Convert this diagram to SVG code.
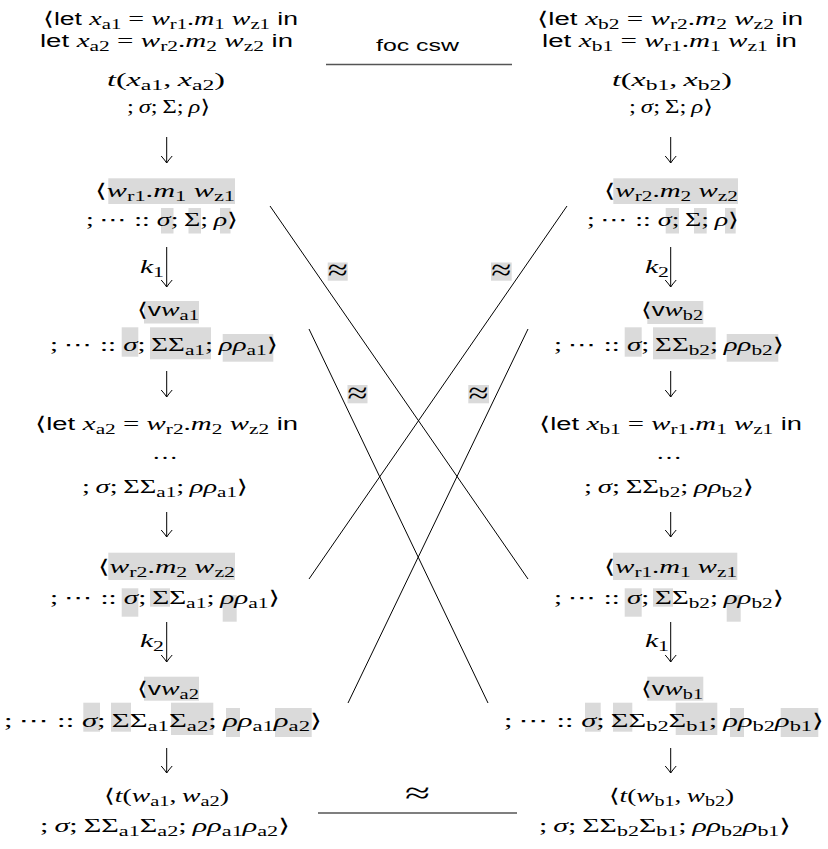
<svg xmlns="http://www.w3.org/2000/svg" width="828" height="849" viewBox="0 0 828 849">
<defs>
<style>
.t{font-family:"Liberation Serif",serif;font-size:19px;fill:#000}
.m{font-style:italic}
.s{font-family:"Liberation Sans",sans-serif;font-size:18px}
.b{font-size:14px}
.a{font-family:"DejaVu Sans",sans-serif}
.ap{font-family:"Liberation Serif",serif;font-size:30px;fill:#000}
.hl{fill:#dadada}
.ln{stroke:#000;stroke-width:1;fill:none}
.bar{stroke:#555;stroke-width:1.4;fill:none}
.arr{stroke:#000;stroke-width:1;fill:none;marker-end:url(#hd)}
.lab{font-family:"Liberation Sans",sans-serif;font-size:17px;fill:#000}
</style>
<marker id="hd" viewBox="-9 -8 10 16" markerWidth="10" markerHeight="16" refX="0" refY="0" orient="auto" markerUnits="userSpaceOnUse" overflow="visible">
<path d="M-7,-5.5 Q-2.5,-1.5 0,0 Q-2.5,1.5 -7,5.5" stroke="#000" stroke-width="1" fill="none"/>
</marker>
</defs>
<rect width="828" height="849" fill="#fff"/>

<g id="connectors">
<path class="arr" d="M166.7,137 V163"/>
<path class="arr" d="M166.7,247 V287"/>
<path class="arr" d="M166.7,371 V397"/>
<path class="arr" d="M166.7,512 V537"/>
<path class="arr" d="M166.7,622 V662"/>
<path class="arr" d="M166.7,748 V773"/>
<path class="arr" d="M670.7,137 V163"/>
<path class="arr" d="M670.7,247 V287"/>
<path class="arr" d="M670.7,371 V397"/>
<path class="arr" d="M670.7,512 V537"/>
<path class="arr" d="M670.7,622 V662"/>
<path class="arr" d="M670.7,748 V773"/>
<line class="ln" x1="270" y1="206" x2="528" y2="579"/>
<line class="ln" x1="567" y1="206" x2="309" y2="579"/>
<line class="ln" x1="309" y1="329" x2="488" y2="703"/>
<line class="ln" x1="528" y1="329" x2="348" y2="703"/>
<line class="bar" x1="326" y1="64.5" x2="512" y2="64.5"/>
<line class="bar" x1="318" y1="813" x2="517" y2="813"/>
</g>

<g id="edge-labels">
<text class="lab" x="376" y="51" textLength="83" lengthAdjust="spacingAndGlyphs">foc csw</text>
<text class="ap" x="405" y="803" textLength="25" lengthAdjust="spacingAndGlyphs">≈</text>
<rect class="hl" x="327.7" y="262.5" width="20" height="18.2"/>
<text class="ap" x="327.7" y="280" textLength="20" lengthAdjust="spacingAndGlyphs">≈</text>
<rect class="hl" x="491" y="262.5" width="20.7" height="18.2"/>
<text class="ap" x="491.3" y="280" textLength="20" lengthAdjust="spacingAndGlyphs">≈</text>
<rect class="hl" x="347.5" y="385" width="20" height="18.3"/>
<text class="ap" x="347.5" y="402.5" textLength="20" lengthAdjust="spacingAndGlyphs">≈</text>
<rect class="hl" x="468.3" y="385" width="20.7" height="18.3"/>
<text class="ap" x="468.6" y="402.5" textLength="20" lengthAdjust="spacingAndGlyphs">≈</text>
<text class="t" x="140" y="273" textLength="24" lengthAdjust="spacingAndGlyphs"><tspan class="m">k</tspan><tspan class="b" dy="4">1</tspan></text>
<text class="t" x="140" y="647" textLength="24" lengthAdjust="spacingAndGlyphs"><tspan class="m">k</tspan><tspan class="b" dy="4">2</tspan></text>
<text class="t" x="645" y="273" textLength="24" lengthAdjust="spacingAndGlyphs"><tspan class="m">k</tspan><tspan class="b" dy="4">2</tspan></text>
<text class="t" x="645" y="647" textLength="24" lengthAdjust="spacingAndGlyphs"><tspan class="m">k</tspan><tspan class="b" dy="4">1</tspan></text>
</g>

<g id="a0">
<text class="t" x="43" y="25" textLength="255" lengthAdjust="spacingAndGlyphs"><tspan class="a">&#10216;</tspan><tspan class="s">let </tspan><tspan class="m">x</tspan><tspan class="b" dy="4">a1</tspan><tspan dy="-4"> = </tspan><tspan class="m">w</tspan><tspan class="b" dy="4">r1</tspan><tspan dy="-4">.</tspan><tspan class="m">m</tspan><tspan class="b" dy="4">1</tspan><tspan class="m" dy="-4"> w</tspan><tspan class="b" dy="4">z1</tspan><tspan class="s" dy="-4"> in</tspan></text>
<text class="t" x="40" y="47" textLength="253" lengthAdjust="spacingAndGlyphs"><tspan class="s">let </tspan><tspan class="m">x</tspan><tspan class="b" dy="4">a2</tspan><tspan dy="-4"> = </tspan><tspan class="m">w</tspan><tspan class="b" dy="4">r2</tspan><tspan dy="-4">.</tspan><tspan class="m">m</tspan><tspan class="b" dy="4">2</tspan><tspan class="m" dy="-4"> w</tspan><tspan class="b" dy="4">z2</tspan><tspan class="s" dy="-4"> in</tspan></text>
<text class="t" x="107" y="86" textLength="118" lengthAdjust="spacingAndGlyphs"><tspan class="m">t</tspan>(<tspan class="m">x</tspan><tspan class="b" dy="4">a1</tspan><tspan dy="-4">,&#8201;</tspan><tspan class="m">x</tspan><tspan class="b" dy="4">a2</tspan><tspan dy="-4">)</tspan></text>
<text class="t" x="127" y="113" textLength="83" lengthAdjust="spacingAndGlyphs">;&#8201;<tspan class="m">σ</tspan>;&#8201;Σ;&#8201;<tspan class="m">ρ</tspan><tspan class="a">&#10217;</tspan></text>
</g>

<g id="a1">
<rect class="hl" x="108.3" y="178.3" width="126.7" height="25.7"/>
<rect class="hl" x="161" y="208" width="12.5" height="25.5"/>
<rect class="hl" x="188.5" y="208" width="12.5" height="25.5"/>
<rect class="hl" x="220" y="208" width="10.5" height="25.5"/>
<text class="t" x="95" y="197" textLength="140" lengthAdjust="spacingAndGlyphs"><tspan class="a">&#10216;</tspan><tspan class="m">w</tspan><tspan class="b" dy="4">r1</tspan><tspan dy="-4">.</tspan><tspan class="m">m</tspan><tspan class="b" dy="4">1</tspan><tspan class="m" dy="-4"> w</tspan><tspan class="b" dy="4">z1</tspan></text>
<text class="t" x="86" y="226" textLength="152" lengthAdjust="spacingAndGlyphs">;&#8201;<tspan class="a">&#8943;</tspan> :: <tspan class="m">σ</tspan>;&#8201;Σ;&#8201;<tspan class="m">ρ</tspan><tspan class="a">&#10217;</tspan></text>
</g>

<g id="a2">
<rect class="hl" x="144" y="301" width="55" height="22.5"/>
<rect class="hl" x="121.7" y="327.3" width="16.6" height="29.4"/>
<rect class="hl" x="150" y="327.3" width="61" height="32"/>
<rect class="hl" x="222.7" y="334" width="50.6" height="27.7"/>
<text class="t" x="137" y="316" textLength="62" lengthAdjust="spacingAndGlyphs"><tspan class="a">&#10216;</tspan><tspan class="s">v</tspan><tspan class="m">w</tspan><tspan class="b" dy="4">a1</tspan></text>
<text class="t" x="50" y="351" textLength="228" lengthAdjust="spacingAndGlyphs">;&#8201;<tspan class="a">&#8943;</tspan> :: <tspan class="m">σ</tspan>;&#8201;ΣΣ<tspan class="b" dy="4">a1</tspan><tspan dy="-4">;&#8201;</tspan><tspan class="m">ρρ</tspan><tspan class="b" dy="4">a1</tspan><tspan class="a" dy="-4">&#10217;</tspan></text>
</g>

<g id="a3">
<text class="t" x="35" y="430" textLength="263" lengthAdjust="spacingAndGlyphs"><tspan class="a">&#10216;</tspan><tspan class="s">let </tspan><tspan class="m">x</tspan><tspan class="b" dy="4">a2</tspan><tspan dy="-4"> = </tspan><tspan class="m">w</tspan><tspan class="b" dy="4">r2</tspan><tspan dy="-4">.</tspan><tspan class="m">m</tspan><tspan class="b" dy="4">2</tspan><tspan class="m" dy="-4"> w</tspan><tspan class="b" dy="4">z2</tspan><tspan class="s" dy="-4"> in</tspan></text>
<text class="t" x="152" y="459" textLength="26" lengthAdjust="spacingAndGlyphs">…</text>
<text class="t" x="82" y="493" textLength="166" lengthAdjust="spacingAndGlyphs">;&#8201;<tspan class="m">σ</tspan>;&#8201;ΣΣ<tspan class="b" dy="4">a1</tspan><tspan dy="-4">;&#8201;</tspan><tspan class="m">ρρ</tspan><tspan class="b" dy="4">a1</tspan><tspan class="a" dy="-4">&#10217;</tspan></text>
</g>

<g id="a4">
<rect class="hl" x="108.3" y="552.7" width="126.7" height="27.3"/>
<rect class="hl" x="121.7" y="588.3" width="16.6" height="28.4"/>
<rect class="hl" x="150" y="588.3" width="20" height="18.4"/>
<rect class="hl" x="222.7" y="595" width="14" height="26.7"/>
<text class="t" x="98" y="573" textLength="137" lengthAdjust="spacingAndGlyphs"><tspan class="a">&#10216;</tspan><tspan class="m">w</tspan><tspan class="b" dy="4">r2</tspan><tspan dy="-4">.</tspan><tspan class="m">m</tspan><tspan class="b" dy="4">2</tspan><tspan class="m" dy="-4"> w</tspan><tspan class="b" dy="4">z2</tspan></text>
<text class="t" x="50" y="604" textLength="230" lengthAdjust="spacingAndGlyphs">;&#8201;<tspan class="a">&#8943;</tspan> :: <tspan class="m">σ</tspan>;&#8201;ΣΣ<tspan class="b" dy="4">a1</tspan><tspan dy="-4">;&#8201;</tspan><tspan class="m">ρρ</tspan><tspan class="b" dy="4">a1</tspan><tspan class="a" dy="-4">&#10217;</tspan></text>
</g>

<g id="a5">
<rect class="hl" x="144" y="676.7" width="55" height="24"/>
<rect class="hl" x="83.3" y="702.7" width="16.7" height="29"/>
<rect class="hl" x="111" y="702.7" width="20" height="29"/>
<rect class="hl" x="171" y="702.7" width="42.3" height="32.3"/>
<rect class="hl" x="226" y="708" width="14" height="29"/>
<rect class="hl" x="275" y="708" width="36.7" height="29"/>
<text class="t" x="137" y="695" textLength="62" lengthAdjust="spacingAndGlyphs"><tspan class="a">&#10216;</tspan><tspan class="s">v</tspan><tspan class="m">w</tspan><tspan class="b" dy="4">a2</tspan></text>
<text class="t" x="4" y="727" textLength="318" lengthAdjust="spacingAndGlyphs">;&#8201;<tspan class="a">&#8943;</tspan> :: <tspan class="m">σ</tspan>;&#8201;ΣΣ<tspan class="b" dy="4">a1</tspan><tspan dy="-4">Σ</tspan><tspan class="b" dy="4">a2</tspan><tspan dy="-4">;&#8201;</tspan><tspan class="m">ρρ</tspan><tspan class="b" dy="4">a1</tspan><tspan class="m" dy="-4">ρ</tspan><tspan class="b" dy="4">a2</tspan><tspan class="a" dy="-4">&#10217;</tspan></text>
</g>

<g id="a6">
<text class="t" x="104" y="802" textLength="125" lengthAdjust="spacingAndGlyphs"><tspan class="a">&#10216;</tspan><tspan class="m">t</tspan>(<tspan class="m">w</tspan><tspan class="b" dy="4">a1</tspan><tspan dy="-4">,&#8201;</tspan><tspan class="m">w</tspan><tspan class="b" dy="4">a2</tspan><tspan dy="-4">)</tspan></text>
<text class="t" x="40" y="832" textLength="250" lengthAdjust="spacingAndGlyphs">;&#8201;<tspan class="m">σ</tspan>;&#8201;ΣΣ<tspan class="b" dy="4">a1</tspan><tspan dy="-4">Σ</tspan><tspan class="b" dy="4">a2</tspan><tspan dy="-4">;&#8201;</tspan><tspan class="m">ρρ</tspan><tspan class="b" dy="4">a1</tspan><tspan class="m" dy="-4">ρ</tspan><tspan class="b" dy="4">a2</tspan><tspan class="a" dy="-4">&#10217;</tspan></text>
</g>

<g id="b0">
<text class="t" x="537" y="25" textLength="266" lengthAdjust="spacingAndGlyphs"><tspan class="a">&#10216;</tspan><tspan class="s">let </tspan><tspan class="m">x</tspan><tspan class="b" dy="4">b2</tspan><tspan dy="-4"> = </tspan><tspan class="m">w</tspan><tspan class="b" dy="4">r2</tspan><tspan dy="-4">.</tspan><tspan class="m">m</tspan><tspan class="b" dy="4">2</tspan><tspan class="m" dy="-4"> w</tspan><tspan class="b" dy="4">z2</tspan><tspan class="s" dy="-4"> in</tspan></text>
<text class="t" x="542" y="47" textLength="255" lengthAdjust="spacingAndGlyphs"><tspan class="s">let </tspan><tspan class="m">x</tspan><tspan class="b" dy="4">b1</tspan><tspan dy="-4"> = </tspan><tspan class="m">w</tspan><tspan class="b" dy="4">r1</tspan><tspan dy="-4">.</tspan><tspan class="m">m</tspan><tspan class="b" dy="4">1</tspan><tspan class="m" dy="-4"> w</tspan><tspan class="b" dy="4">z1</tspan><tspan class="s" dy="-4"> in</tspan></text>
<text class="t" x="612" y="86" textLength="120" lengthAdjust="spacingAndGlyphs"><tspan class="m">t</tspan>(<tspan class="m">x</tspan><tspan class="b" dy="4">b1</tspan><tspan dy="-4">,&#8201;</tspan><tspan class="m">x</tspan><tspan class="b" dy="4">b2</tspan><tspan dy="-4">)</tspan></text>
<text class="t" x="629" y="113" textLength="84" lengthAdjust="spacingAndGlyphs">;&#8201;<tspan class="m">σ</tspan>;&#8201;Σ;&#8201;<tspan class="m">ρ</tspan><tspan class="a">&#10217;</tspan></text>
</g>

<g id="b1">
<rect class="hl" x="613.3" y="178.3" width="124.7" height="25.7"/>
<rect class="hl" x="665.7" y="208" width="13.3" height="25.5"/>
<rect class="hl" x="694" y="208" width="12.7" height="25.5"/>
<rect class="hl" x="725" y="208" width="10.7" height="25.5"/>
<text class="t" x="604" y="197" textLength="134" lengthAdjust="spacingAndGlyphs"><tspan class="a">&#10216;</tspan><tspan class="m">w</tspan><tspan class="b" dy="4">r2</tspan><tspan dy="-4">.</tspan><tspan class="m">m</tspan><tspan class="b" dy="4">2</tspan><tspan class="m" dy="-4"> w</tspan><tspan class="b" dy="4">z2</tspan></text>
<text class="t" x="587" y="226" textLength="152" lengthAdjust="spacingAndGlyphs">;&#8201;<tspan class="a">&#8943;</tspan> :: <tspan class="m">σ</tspan>;&#8201;Σ;&#8201;<tspan class="m">ρ</tspan><tspan class="a">&#10217;</tspan></text>
</g>

<g id="b2">
<rect class="hl" x="647.3" y="301" width="56" height="23"/>
<rect class="hl" x="624.7" y="327.3" width="17" height="29.4"/>
<rect class="hl" x="653" y="327.3" width="62.7" height="32"/>
<rect class="hl" x="726.7" y="334" width="51.6" height="27.7"/>
<text class="t" x="641" y="316" textLength="62" lengthAdjust="spacingAndGlyphs"><tspan class="a">&#10216;</tspan><tspan class="s">v</tspan><tspan class="m">w</tspan><tspan class="b" dy="4">b2</tspan></text>
<text class="t" x="554" y="351" textLength="230" lengthAdjust="spacingAndGlyphs">;&#8201;<tspan class="a">&#8943;</tspan> :: <tspan class="m">σ</tspan>;&#8201;ΣΣ<tspan class="b" dy="4">b2</tspan><tspan dy="-4">;&#8201;</tspan><tspan class="m">ρρ</tspan><tspan class="b" dy="4">b2</tspan><tspan class="a" dy="-4">&#10217;</tspan></text>
</g>

<g id="b3">
<text class="t" x="539" y="430" textLength="263" lengthAdjust="spacingAndGlyphs"><tspan class="a">&#10216;</tspan><tspan class="s">let </tspan><tspan class="m">x</tspan><tspan class="b" dy="4">b1</tspan><tspan dy="-4"> = </tspan><tspan class="m">w</tspan><tspan class="b" dy="4">r1</tspan><tspan dy="-4">.</tspan><tspan class="m">m</tspan><tspan class="b" dy="4">1</tspan><tspan class="m" dy="-4"> w</tspan><tspan class="b" dy="4">z1</tspan><tspan class="s" dy="-4"> in</tspan></text>
<text class="t" x="656" y="459" textLength="26" lengthAdjust="spacingAndGlyphs">…</text>
<text class="t" x="584" y="493" textLength="170" lengthAdjust="spacingAndGlyphs">;&#8201;<tspan class="m">σ</tspan>;&#8201;ΣΣ<tspan class="b" dy="4">b2</tspan><tspan dy="-4">;&#8201;</tspan><tspan class="m">ρρ</tspan><tspan class="b" dy="4">b2</tspan><tspan class="a" dy="-4">&#10217;</tspan></text>
</g>

<g id="b4">
<rect class="hl" x="613" y="552.7" width="124.3" height="27.3"/>
<rect class="hl" x="624.7" y="588.3" width="17" height="28.4"/>
<rect class="hl" x="653" y="588.3" width="20" height="18.4"/>
<rect class="hl" x="726.7" y="595" width="14" height="26.7"/>
<text class="t" x="604" y="573" textLength="133" lengthAdjust="spacingAndGlyphs"><tspan class="a">&#10216;</tspan><tspan class="m">w</tspan><tspan class="b" dy="4">r1</tspan><tspan dy="-4">.</tspan><tspan class="m">m</tspan><tspan class="b" dy="4">1</tspan><tspan class="m" dy="-4"> w</tspan><tspan class="b" dy="4">z1</tspan></text>
<text class="t" x="554" y="604" textLength="230" lengthAdjust="spacingAndGlyphs">;&#8201;<tspan class="a">&#8943;</tspan> :: <tspan class="m">σ</tspan>;&#8201;ΣΣ<tspan class="b" dy="4">b2</tspan><tspan dy="-4">;&#8201;</tspan><tspan class="m">ρρ</tspan><tspan class="b" dy="4">b2</tspan><tspan class="a" dy="-4">&#10217;</tspan></text>
</g>

<g id="b5">
<rect class="hl" x="647.3" y="676.7" width="56" height="24"/>
<rect class="hl" x="585" y="702.7" width="15.7" height="29"/>
<rect class="hl" x="613" y="702.7" width="19.3" height="29"/>
<rect class="hl" x="675.7" y="702.7" width="41.6" height="32.3"/>
<rect class="hl" x="730" y="708" width="14" height="29"/>
<rect class="hl" x="780.7" y="708" width="37.6" height="29"/>
<text class="t" x="641" y="695" textLength="62" lengthAdjust="spacingAndGlyphs"><tspan class="a">&#10216;</tspan><tspan class="s">v</tspan><tspan class="m">w</tspan><tspan class="b" dy="4">b1</tspan></text>
<text class="t" x="504" y="727" textLength="320" lengthAdjust="spacingAndGlyphs">;&#8201;<tspan class="a">&#8943;</tspan> :: <tspan class="m">σ</tspan>;&#8201;ΣΣ<tspan class="b" dy="4">b2</tspan><tspan dy="-4">Σ</tspan><tspan class="b" dy="4">b1</tspan><tspan dy="-4">;&#8201;</tspan><tspan class="m">ρρ</tspan><tspan class="b" dy="4">b2</tspan><tspan class="m" dy="-4">ρ</tspan><tspan class="b" dy="4">b1</tspan><tspan class="a" dy="-4">&#10217;</tspan></text>
</g>

<g id="b6">
<text class="t" x="609" y="802" textLength="125" lengthAdjust="spacingAndGlyphs"><tspan class="a">&#10216;</tspan><tspan class="m">t</tspan>(<tspan class="m">w</tspan><tspan class="b" dy="4">b1</tspan><tspan dy="-4">,&#8201;</tspan><tspan class="m">w</tspan><tspan class="b" dy="4">b2</tspan><tspan dy="-4">)</tspan></text>
<text class="t" x="539" y="832" textLength="252" lengthAdjust="spacingAndGlyphs">;&#8201;<tspan class="m">σ</tspan>;&#8201;ΣΣ<tspan class="b" dy="4">b2</tspan><tspan dy="-4">Σ</tspan><tspan class="b" dy="4">b1</tspan><tspan dy="-4">;&#8201;</tspan><tspan class="m">ρρ</tspan><tspan class="b" dy="4">b2</tspan><tspan class="m" dy="-4">ρ</tspan><tspan class="b" dy="4">b1</tspan><tspan class="a" dy="-4">&#10217;</tspan></text>
</g>
</svg>
